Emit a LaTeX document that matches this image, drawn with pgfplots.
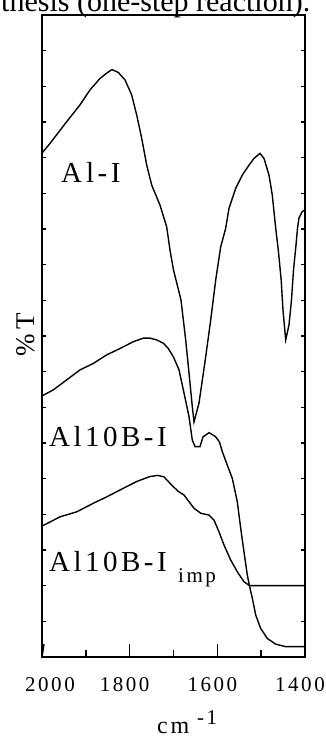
\documentclass[border=0pt]{standalone}
\usepackage{pgfplots}
\pgfplotsset{compat=1.18}
\usepackage{fontspec}
\setmainfont{Liberation Serif}
\newfontfamily\spaced[LetterSpace=12]{Liberation Serif}
\begin{document}
\begin{tikzpicture}[x=1pt,y=1pt]
\useasboundingbox (0,0) rectangle (326,740);
\begin{axis}[at={(42pt,83pt)}, anchor=south west, scale only axis,
  width=263pt, height=642pt,
  xmin=1400, xmax=2000, x dir=reverse, ymin=0, ymax=18,
  axis line style={line width=1.8pt},
  xtick={1800,1600,1400}, minor xtick={1900,1700,1500},
  xticklabels={1800,1600,1400},
  extra x ticks={2000}, extra x tick labels={2000},
  extra x tick style={xticklabel style={xshift=13pt}},
  ytick=\empty, xtick pos=left, tick align=inside,
  major tick length=13pt, minor tick length=6.7pt,
  every tick/.append style={line width=1.4pt, black},
  xticklabel style={font=\spaced\fontsize{21}{21}\selectfont, anchor=base, yshift=-34pt, xshift=-5pt},
  spec/.style={black, line width=1.4pt, no marks},
]
% Al-I
\addplot[spec] coordinates {(2000,14.13) (1981.7,14.40) (1943.6,15.01) (1913.3,15.48) (1890.5,15.90) (1867.7,16.22) (1852.4,16.37) (1840.3,16.47) (1825.9,16.39) (1810.6,16.18) (1795.4,15.76) (1784.0,15.20) (1772.5,14.54) (1761.1,13.79) (1749.7,13.23) (1730.8,12.67) (1715.5,12.06) (1708.0,11.41) (1700.0,10.85) (1682.9,10.01) (1672.2,8.89) (1664.6,7.96) (1657.1,7.02) (1653.2,6.59) (1641.8,7.12) (1626.5,8.42) (1615.1,9.45) (1603.7,10.57) (1592.3,11.50) (1580.9,12.02) (1573.4,12.58) (1558.1,13.14) (1543.0,13.51) (1527.8,13.79) (1516.3,13.98) (1502.7,14.12) (1493.5,13.98) (1482.1,13.51) (1474.6,12.95) (1466.8,12.02) (1460.9,11.41) (1454.3,10.57) (1450.2,9.73) (1444.0,8.89) (1436.5,9.31) (1430.8,10.01) (1426.2,10.85) (1420.5,11.55) (1417.1,12.02) (1413.7,12.31) (1406.2,12.49) (1400,12.53)};
% Al10B-I
\addplot[spec] coordinates {(2000,7.32) (1974.2,7.49) (1943.6,7.77) (1913.3,8.05) (1883.0,8.23) (1852.4,8.47) (1822.0,8.65) (1791.7,8.84) (1768.9,8.94) (1753.6,8.94) (1738.3,8.89) (1723.3,8.80) (1711.9,8.65) (1700.0,8.41) (1687.4,8.05) (1676.0,7.40) (1664.6,6.74) (1657.1,6.08) (1650.9,5.90) (1639.5,5.90) (1632.7,6.17) (1619.0,6.29) (1604.2,6.18) (1595.1,6.03) (1588.7,5.76) (1577.3,5.38) (1565.9,5.01) (1554.4,4.35) (1546.7,3.61) (1539.2,2.95) (1531.6,2.30) (1526.6,1.99) (1520.2,1.65) (1512.5,1.18) (1501.1,0.80) (1486.0,0.52) (1466.8,0.36) (1444.0,0.29) (1400,0.29)};
% Al10B-I imp
\addplot[spec] coordinates {(2000,3.67) (1958.9,3.93) (1920.8,4.07) (1883.0,4.31) (1852.4,4.49) (1814.5,4.73) (1784.0,4.92) (1753.6,5.06) (1735.4,5.09) (1721.7,5.05) (1704.1,4.82) (1689.7,4.65) (1676.0,4.54) (1653.2,4.17) (1637.9,4.03) (1619.0,3.98) (1607.6,3.84) (1596.2,3.51) (1584.8,3.14) (1569.5,2.72) (1554.4,2.39) (1539.2,2.11) (1526.6,2.00) (1400,2.00)};
% small fragment at bottom left
\addplot[spec] coordinates {(2000,0.0) (1995.4,0.36)};
\end{axis}
\begin{axis}[at={(42pt,83pt)}, anchor=south west, scale only axis,
  width=263pt, height=642pt,
  xmin=1400, xmax=2000, x dir=reverse, ymin=0, ymax=18,
  axis line style={line width=1.8pt},
  xtick=\empty, ytick={1,2,...,17}, yticklabels={}, ytick pos=both, tick align=inside,
  major tick length=4pt,
  every tick/.append style={line width=1.4pt, black},
]
\end{axis}
\node[anchor=base west, inner sep=0pt, font=\fontsize{30}{30}\selectfont] at (1,728) {thesis (one-step reaction).};
\node[anchor=base west, inner sep=0pt, font=\spaced\fontsize{29}{29}\selectfont] at (61,557) {A\hspace{4pt}l-I};
\node[anchor=base west, inner sep=0pt, font=\spaced\fontsize{29}{29}\selectfont] at (49,293) {Al10B-I};
\node[anchor=base west, inner sep=0pt, font=\spaced\fontsize{29}{29}\selectfont] at (49,168) {Al10B-I};
\node[anchor=base west, inner sep=0pt, font=\spaced\fontsize{21}{21}\selectfont] at (178,157) {imp};
\node[rotate=90, inner sep=0pt, font=\spaced\fontsize{27}{27}\selectfont] at (26,405) {\%\,T};
\node[anchor=base west, inner sep=0pt, font=\spaced\fontsize{24}{24}\selectfont] at (157,6) {cm};
\node[anchor=base west, inner sep=0pt, font=\spaced\fontsize{21}{21}\selectfont] at (197,16) {-1};
\end{tikzpicture}
\end{document}
